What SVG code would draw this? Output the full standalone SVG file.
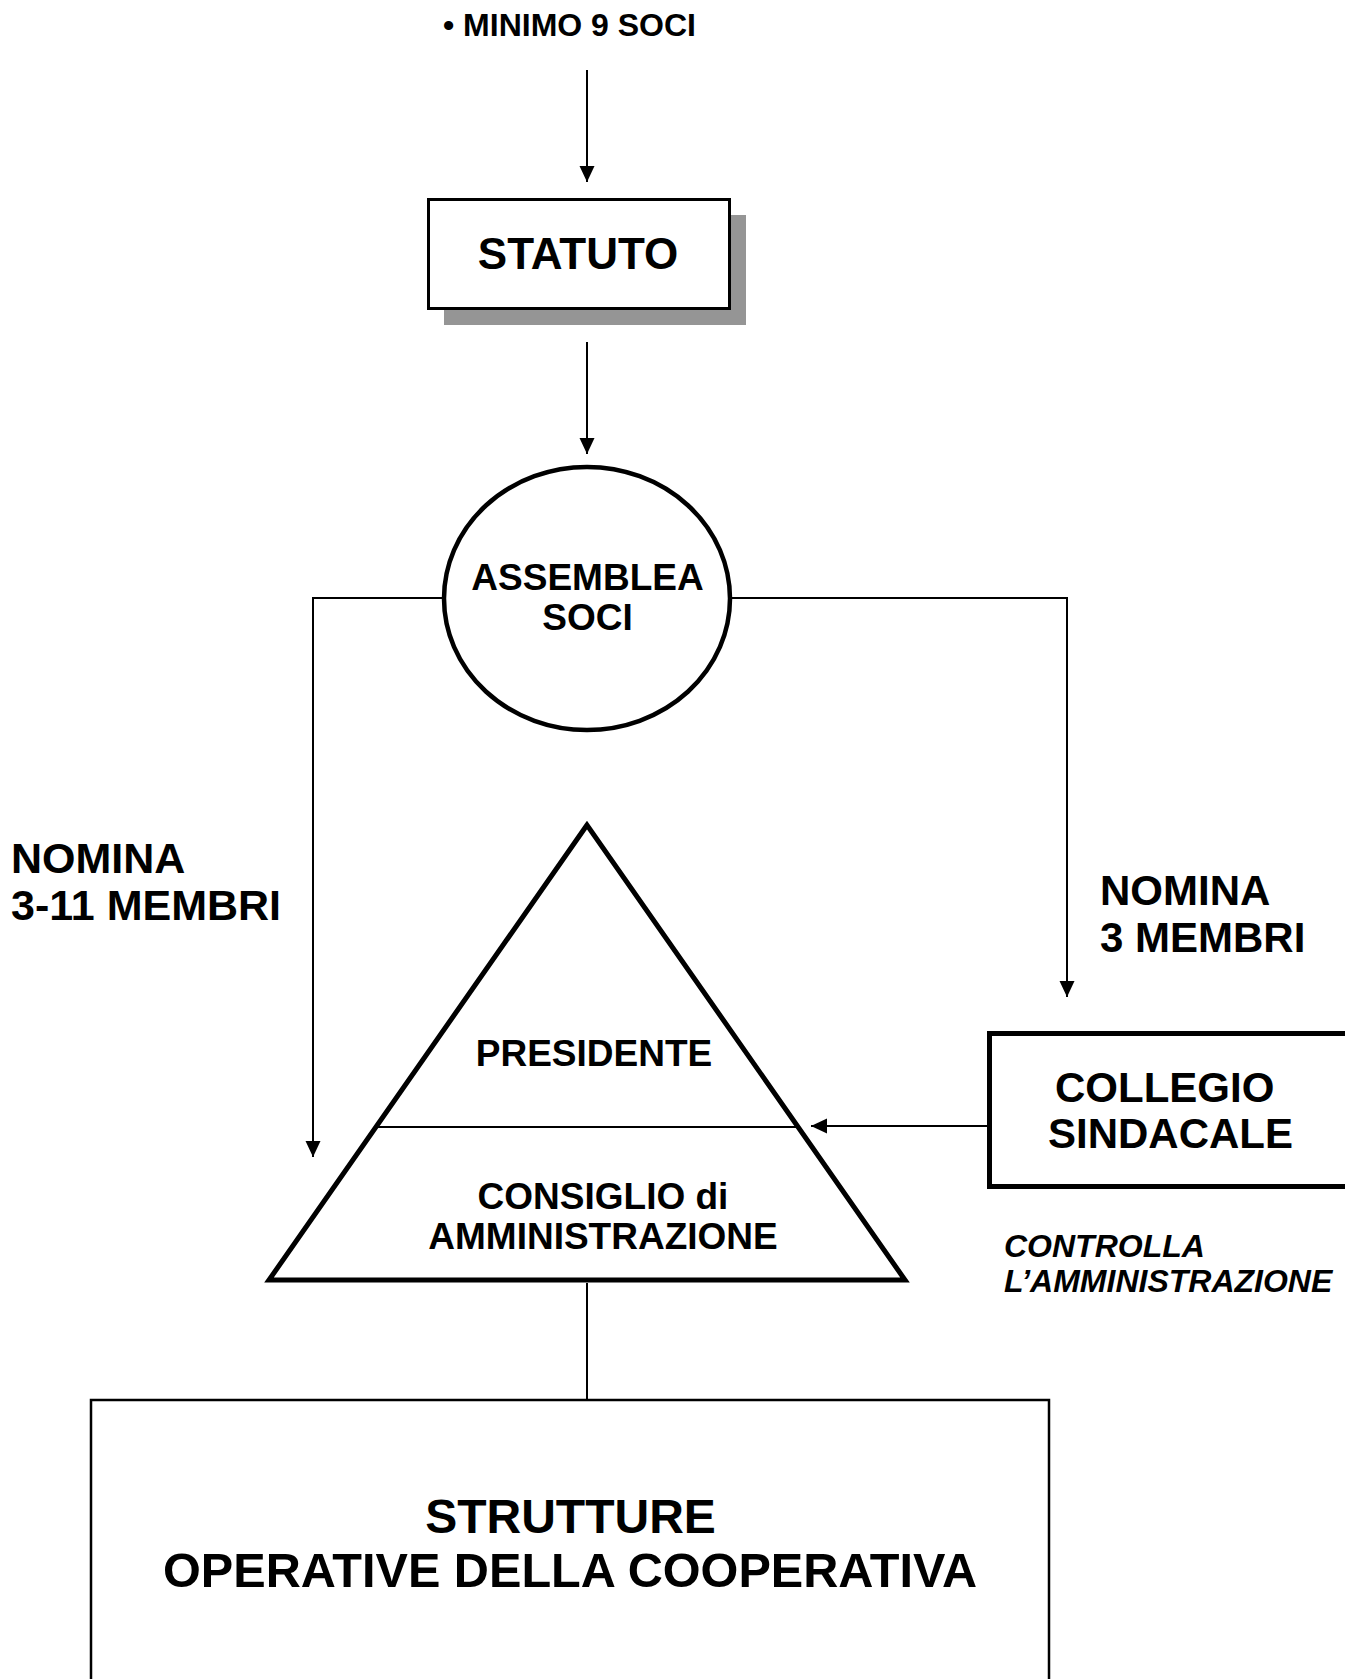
<svg xmlns="http://www.w3.org/2000/svg" width="1345" height="1679" viewBox="0 0 1345 1679">
<style>
text{font-family:"Liberation Sans",Arial,sans-serif;font-weight:bold;fill:#000}
.c{text-anchor:middle}
.conn{stroke:#000;stroke-width:2;fill:none}
.it{font-style:italic}
</style>
<defs>
<marker id="ah" markerUnits="userSpaceOnUse" markerWidth="16" markerHeight="16" refX="16" refY="7.5" orient="auto">
<path d="M0,0 L16,7.5 L0,15 Z" fill="#000"/>
</marker>
</defs>
<rect width="1345" height="1679" fill="#fff"/>

<g id="label-minimo">
<text x="443" y="36" font-size="32">• MINIMO 9 SOCI</text>
</g>

<g id="statuto">
<rect x="444" y="215" width="302" height="110" fill="#959595"/>
<rect x="428.5" y="199.5" width="301" height="109" fill="#fff" stroke="#000" stroke-width="3"/>
<text class="c" x="578" y="269" font-size="44">STATUTO</text>
</g>

<g id="assemblea">
<ellipse cx="587" cy="598.5" rx="143" ry="131.5" fill="#fff" stroke="#000" stroke-width="4.5"/>
<text class="c" x="587.5" y="590" font-size="37">ASSEMBLEA</text>
<text class="c" x="587.5" y="630" font-size="37">SOCI</text>
</g>

<g id="label-nomina-left">
<text x="11" y="873" font-size="43">NOMINA</text>
<text x="11" y="920" font-size="43">3-11 MEMBRI</text>
</g>

<g id="label-nomina-right">
<text x="1100" y="905" font-size="42">NOMINA</text>
<text x="1100" y="952" font-size="42">3 MEMBRI</text>
</g>

<g id="piramide">
<polygon points="587,825 269,1280 905,1280" fill="#fff" stroke="#000" stroke-width="5" stroke-linejoin="miter"/>
<line x1="376" y1="1127" x2="798" y2="1127" stroke="#000" stroke-width="2"/>
<text class="c" x="594" y="1066" font-size="37">PRESIDENTE</text>
<text class="c" x="603" y="1209" font-size="37">CONSIGLIO di</text>
<text class="c" x="603" y="1249" font-size="37">AMMINISTRAZIONE</text>
</g>

<g id="collegio">
<rect x="989.5" y="1033.5" width="400" height="153" fill="#fff" stroke="#000" stroke-width="5"/>
<text x="1055" y="1102" font-size="42">COLLEGIO</text>
<text x="1048" y="1148" font-size="42">SINDACALE</text>
</g>

<g id="label-controlla">
<text class="it" x="1004" y="1257" font-size="32">CONTROLLA</text>
<text class="it" x="1004" y="1292" font-size="32">L’AMMINISTRAZIONE</text>
</g>

<g id="strutture">
<rect x="91" y="1400" width="958" height="320" fill="#fff" stroke="#000" stroke-width="2.5"/>
<text class="c" x="570.5" y="1533" font-size="48">STRUTTURE</text>
<text class="c" x="570" y="1587" font-size="48" textLength="814" lengthAdjust="spacingAndGlyphs">OPERATIVE DELLA COOPERATIVA</text>
</g>

<g id="connectors">
<line class="conn" x1="587" y1="70" x2="587" y2="182" marker-end="url(#ah)"/>
<line class="conn" x1="587" y1="342" x2="587" y2="454" marker-end="url(#ah)"/>
<polyline class="conn" points="444,598 313,598 313,1157" marker-end="url(#ah)"/>
<polyline class="conn" points="730,598 1067,598 1067,997" marker-end="url(#ah)"/>
<line class="conn" x1="987" y1="1126" x2="811" y2="1126" marker-end="url(#ah)"/>
<line class="conn" x1="587" y1="1283" x2="587" y2="1399"/>
</g>
</svg>
